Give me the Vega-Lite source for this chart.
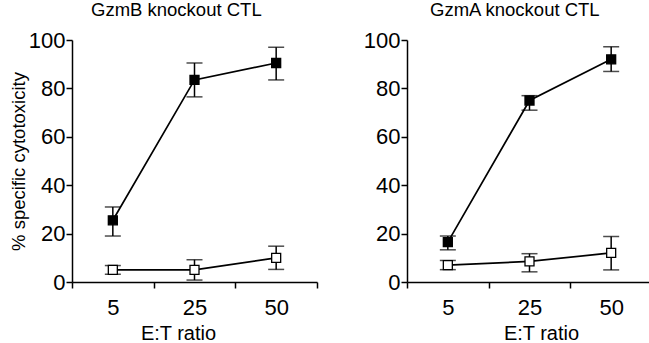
{
  "$schema": "https://vega.github.io/schema/vega-lite/v6.json",
  "background": "white",
  "padding": {"left": 9, "top": 0, "right": 0, "bottom": 0},
  "spacing": 45,
  "config": {
    "view": {"stroke": null},
    "font": "Liberation Sans",
    "axis": {
      "domainColor": "black", "tickColor": "black", "labelColor": "black", "titleColor": "black",
      "domainWidth": 1.5, "tickWidth": 1.5, "grid": false,
      "labelFont": "Liberation Sans", "titleFont": "Liberation Sans",
      "titleFontWeight": "normal", "tickSize": 6
    },
    "title": {"font": "Liberation Sans", "fontWeight": "normal", "fontSize": 18.5, "color": "black"}
  },
  "datasets": {
    "d": [
      {"panel": "GzmB", "group": "WT", "ratio": 5, "mean": 25.5, "lo": 19.0, "hi": 31.0},
      {"panel": "GzmB", "group": "WT", "ratio": 25, "mean": 83.5, "lo": 76.5, "hi": 90.5},
      {"panel": "GzmB", "group": "WT", "ratio": 50, "mean": 90.5, "lo": 83.5, "hi": 97.0},
      {"panel": "GzmB", "group": "KO", "ratio": 5, "mean": 5.0, "lo": 3.2, "hi": 6.8},
      {"panel": "GzmB", "group": "KO", "ratio": 25, "mean": 5.0, "lo": 0.8, "hi": 9.2},
      {"panel": "GzmB", "group": "KO", "ratio": 50, "mean": 10.0, "lo": 5.2, "hi": 14.8},
      {"panel": "GzmA", "group": "WT", "ratio": 5, "mean": 16.5, "lo": 13.3, "hi": 19.0},
      {"panel": "GzmA", "group": "WT", "ratio": 25, "mean": 75.0, "lo": 71.0, "hi": 77.0},
      {"panel": "GzmA", "group": "WT", "ratio": 50, "mean": 92.0, "lo": 87.0, "hi": 97.2},
      {"panel": "GzmA", "group": "KO", "ratio": 5, "mean": 7.0, "lo": 5.1, "hi": 8.9},
      {"panel": "GzmA", "group": "KO", "ratio": 25, "mean": 8.5, "lo": 4.2, "hi": 11.7},
      {"panel": "GzmA", "group": "KO", "ratio": 50, "mean": 12.0, "lo": 5.0, "hi": 18.8}
    ]
  },
  "hconcat": [
    {
      "width": 245, "height": 242,
      "title": {"text": "GzmB knockout CTL", "frame": "group", "anchor": "start", "dx": 19, "offset": 10},
      "data": {"name": "d"},
      "transform": [{"filter": "datum.panel === 'GzmB'"}],
      "encoding": {
        "x": {"field": "ratio", "type": "ordinal", "sort": [5, 25, 50],
          "scale": {"type": "band", "paddingInner": 0, "paddingOuter": 0},
          "axis": {"title": "E:T ratio", "labelAngle": 0, "labelFontSize": 22, "titleFontSize": 20, "tickBand": "extent", "labelPadding": 9, "titlePadding": 5, "titleX": 106}}
      },
      "layer": [
        {"mark": {"type": "rule", "color": "black", "strokeWidth": 1.5},
          "encoding": {
            "y": {"field": "lo", "type": "quantitative", "scale": {"domain": [0, 100], "nice": false},
              "axis": {"title": "% specific cytotoxicity", "values": [0, 20, 40, 60, 80, 100], "labelFontSize": 22, "titleFontSize": 18.5, "labelPadding": 1, "titlePadding": 0}},
            "y2": {"field": "hi"}, "detail": {"field": "group"}}},
        {"mark": {"type": "tick", "color": "black", "size": 16, "thickness": 1.5},
          "encoding": {"y": {"field": "lo", "type": "quantitative"}, "detail": {"field": "group"}}},
        {"mark": {"type": "tick", "color": "black", "size": 16, "thickness": 1.5},
          "encoding": {"y": {"field": "hi", "type": "quantitative"}, "detail": {"field": "group"}}},
        {"mark": {"type": "line", "color": "black", "strokeWidth": 1.7},
          "encoding": {"y": {"field": "mean", "type": "quantitative"}, "detail": {"field": "group"}}},
        {"mark": {"type": "point", "shape": "square", "filled": true, "size": 81, "stroke": "black", "strokeWidth": 1.3, "opacity": 1},
          "encoding": {"y": {"field": "mean", "type": "quantitative"},
            "fill": {"field": "group", "type": "nominal", "scale": {"domain": ["WT", "KO"], "range": ["black", "white"]}, "legend": null}}}
      ]
    },
    {
      "width": 245, "height": 242,
      "title": {"text": "GzmA knockout CTL", "frame": "group", "anchor": "start", "dx": 23, "offset": 10},
      "data": {"name": "d"},
      "transform": [{"filter": "datum.panel === 'GzmA'"}],
      "encoding": {
        "x": {"field": "ratio", "type": "ordinal", "sort": [5, 25, 50],
          "scale": {"type": "band", "paddingInner": 0, "paddingOuter": 0},
          "axis": {"title": "E:T ratio", "labelAngle": 0, "labelFontSize": 22, "titleFontSize": 20, "tickBand": "extent", "labelPadding": 9, "titlePadding": 5, "titleX": 134}}
      },
      "layer": [
        {"mark": {"type": "rule", "color": "black", "strokeWidth": 1.5},
          "encoding": {
            "y": {"field": "lo", "type": "quantitative", "scale": {"domain": [0, 100], "nice": false},
              "axis": {"title": null, "values": [0, 20, 40, 60, 80, 100], "labelFontSize": 22, "labelPadding": 1}},
            "y2": {"field": "hi"}, "detail": {"field": "group"}}},
        {"mark": {"type": "tick", "color": "black", "size": 16, "thickness": 1.5},
          "encoding": {"y": {"field": "lo", "type": "quantitative"}, "detail": {"field": "group"}}},
        {"mark": {"type": "tick", "color": "black", "size": 16, "thickness": 1.5},
          "encoding": {"y": {"field": "hi", "type": "quantitative"}, "detail": {"field": "group"}}},
        {"mark": {"type": "line", "color": "black", "strokeWidth": 1.7},
          "encoding": {"y": {"field": "mean", "type": "quantitative"}, "detail": {"field": "group"}}},
        {"mark": {"type": "point", "shape": "square", "filled": true, "size": 81, "stroke": "black", "strokeWidth": 1.3, "opacity": 1},
          "encoding": {"y": {"field": "mean", "type": "quantitative"},
            "fill": {"field": "group", "type": "nominal", "scale": {"domain": ["WT", "KO"], "range": ["black", "white"]}, "legend": null}}}
      ]
    }
  ]
}
